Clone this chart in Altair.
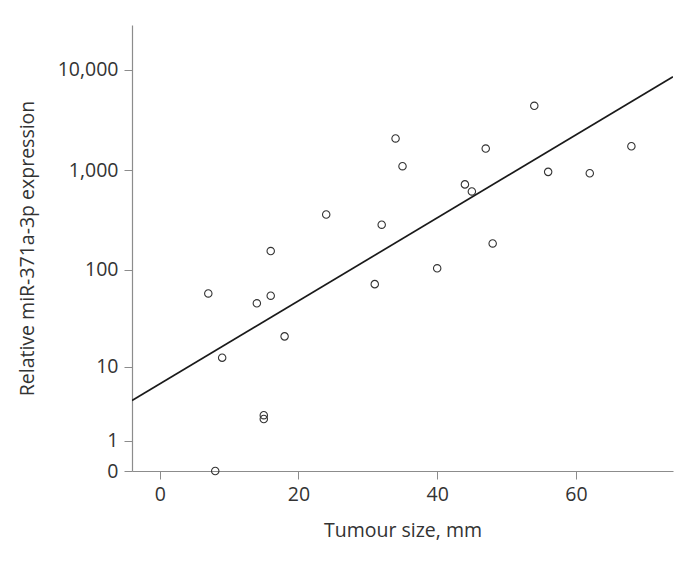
import altair as alt
import pandas as pd

# Tumour size (mm) and relative miR-371a-3p expression
tumour_size = [7, 9, 8, 14, 16, 16, 15, 15, 18, 24, 31, 32, 34, 35, 40, 44, 45, 47, 48, 54, 56, 62, 68]
expression = [58, 12.5, 0, 46, 155, 55, 2.6, 2.3, 21, 360, 72, 285, 2070, 1095, 104, 720, 612, 1640, 185, 4380, 960, 930, 1730]

# Fitted line on log10(1 + expression)
fit_intercept = 0.868
fit_slope = 0.0414
fit_x = [-4, 74]

y_ticks = [0, 1, 10, 100, 1000, 10000]
x_ticks = [0, 20, 40, 60]

points = pd.DataFrame({"size": tumour_size, "expr": expression})
fit = pd.DataFrame({"size": fit_x,
                    "expr": [10 ** (fit_intercept + fit_slope * x) - 1 for x in fit_x]})

FONT = "Open Sans"
FS = 19.5

x_scale = alt.Scale(domain=[-4, 74], nice=False, zero=False)
y_scale = alt.Scale(type="symlog", constant=1, domain=[0, 28000], nice=False)

common = dict(grid=False, tickSize=8, labelPadding=6,
              labelFontSize=FS, titleFontSize=FS, labelFont=FONT, titleFont=FONT,
              labelColor="#333333", titleColor="#333333", titleFontWeight="normal",
              domainColor="#8c8c8c", tickColor="#8c8c8c", domainWidth=1.2)

x_axis = alt.Axis(values=x_ticks, title="Tumour size, mm", titlePadding=18, **common)
y_axis = alt.Axis(values=y_ticks, labelExpr="format(datum.value, ',')",
                  title="Relative miR-371a-3p expression", titlePadding=20, **common)

scatter = alt.Chart(points).mark_point(shape="circle", filled=False, size=55,
                                       color="#333333", strokeWidth=1.1, opacity=1).encode(
    x=alt.X("size:Q", scale=x_scale, axis=x_axis),
    y=alt.Y("expr:Q", scale=y_scale, axis=y_axis),
)

line = alt.Chart(fit).mark_line(color="#1a1a1a", strokeWidth=1.7, clip=True).encode(
    x=alt.X("size:Q", scale=x_scale),
    y=alt.Y("expr:Q", scale=y_scale),
)

chart = alt.layer(line, scatter).properties(
    width=541, height=446,
    autosize=alt.AutoSizeParams(type="none"),
    padding={"left": 124, "top": 17, "right": 10, "bottom": 91},
    background="white",
).configure_view(stroke=None)

chart.save("out.html", embed_options={"renderer": "svg", "actions": False})
